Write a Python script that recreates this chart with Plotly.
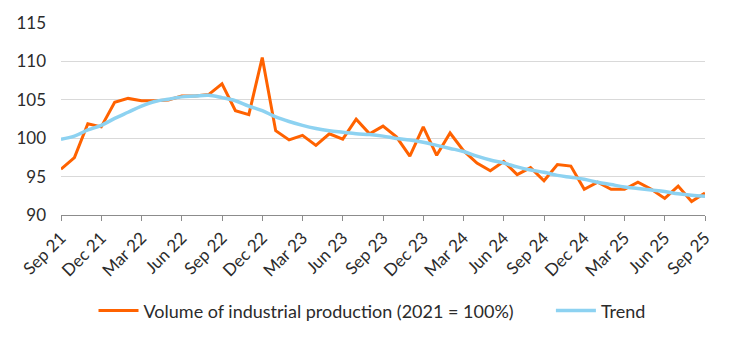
import plotly.graph_objects as go

months = []
names = ["Jan", "Feb", "Mar", "Apr", "May", "Jun", "Jul", "Aug", "Sep", "Oct", "Nov", "Dec"]
for k in range(49):
    m = (8 + k) % 12
    y = 21 + (8 + k) // 12
    months.append(f"{names[m]} {y}")

production = [96.0, 97.5, 101.9, 101.5, 104.7, 105.2, 104.9, 104.9, 105.0, 105.5,
              105.5, 105.7, 107.1, 103.6, 103.1, 110.5, 101.0, 99.8, 100.4, 99.1,
              100.6, 99.9, 102.5, 100.6, 101.6, 100.2, 97.7, 101.5, 97.8, 100.7,
              98.4, 96.8, 95.8, 97.0, 95.3, 96.2, 94.5, 96.6, 96.4, 93.4,
              94.3, 93.4, 93.4, 94.3, 93.4, 92.2, 93.8, 91.8, 92.9]

trend = [99.9, 100.3, 101.1, 101.7, 102.6, 103.4, 104.2, 104.8, 105.1, 105.4,
         105.5, 105.6, 105.3, 104.9, 104.2, 103.6, 102.8, 102.2, 101.7, 101.3,
         101.0, 100.8, 100.6, 100.5, 100.3, 100.0, 99.8, 99.5, 99.1, 98.7,
         98.3, 97.7, 97.2, 96.8, 96.3, 95.9, 95.6, 95.2, 94.95, 94.7,
         94.3, 94.0, 93.7, 93.5, 93.3, 93.1, 92.8, 92.6, 92.5]

tick_labels = months[::3]

fig = go.Figure()
fig.add_trace(go.Scatter(x=months, y=production, mode="lines",
                         name="Volume of industrial production (2021 = 100%)" + "\u00a0" * 7,
                         line=dict(color="#FF6200", width=3)))
fig.add_trace(go.Scatter(x=months, y=trend, mode="lines", name="Trend",
                         line=dict(color="#8DD2F1", width=3.5, shape="spline", smoothing=1)))

font = "Lato, 'Open Sans', sans-serif"
fig.update_layout(
    width=744, height=343,
    margin=dict(l=61, r=39, t=22, b=127),
    plot_bgcolor="white", paper_bgcolor="white",
    font=dict(family=font, size=17, color="#2b2b2b"),
    showlegend=True,
    legend=dict(orientation="h", x=0.5, xanchor="center", xref="container",
                y=0.04, yanchor="bottom", yref="container",
                font=dict(size=18, color="#2b2b2b"), itemwidth=40,
                traceorder="normal"),
    xaxis=dict(type="category", range=[0, 48], tickmode="array",
               tickvals=tick_labels, ticktext=tick_labels, tickangle=-45,
               showgrid=False, showline=True, linecolor="#8C8C8C", linewidth=1,
               ticks="outside", ticklen=5, tickcolor="#8C8C8C",
               tickfont=dict(size=17, color="#2b2b2b")),
    yaxis=dict(range=[90, 115], dtick=5, showgrid=True, gridcolor="#D9D9D9",
               gridwidth=1, zeroline=False, showline=False, ticks="",
               ticklabelstandoff=14, tickfont=dict(size=17, color="#2b2b2b")),
)

fig.write_html("out.html")
